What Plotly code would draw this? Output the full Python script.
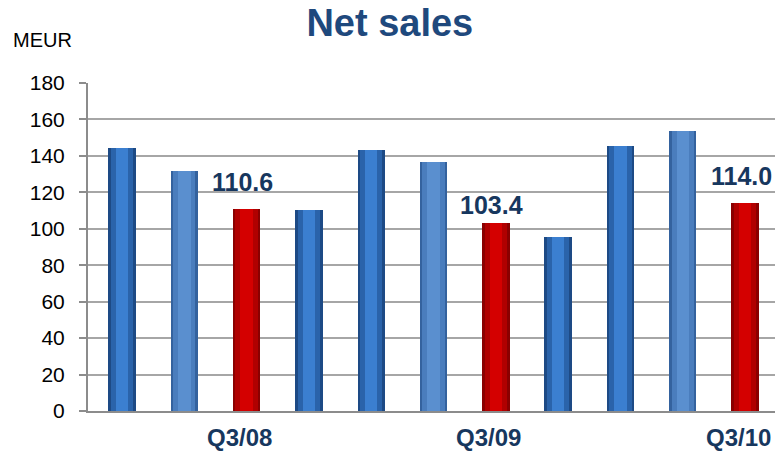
import plotly.graph_objects as go

categories = ["Q1/08", "Q2/08", "Q3/08", "Q4/08", "Q1/09", "Q2/09", "Q3/09", "Q4/09", "Q1/10", "Q2/10", "Q3/10"]
values = [144.2, 131.5, 110.6, 110.3, 143.2, 136.8, 103.4, 95.7, 145.4, 153.7, 114.0]
highlight = [False, False, True, False, False, False, True, False, False, False, True]
shade = ["dark", "light", "red", "dark", "dark", "light", "red", "dark", "dark", "light", "red"]
tick_labels = {2: "Q3/08", 6: "Q3/09", 10: "Q3/10"}

base_col = {"dark": "#2a63aa", "light": "#4a7dbd", "red": "#b00000"}
mid_col = {"dark": "#3b7fd0", "light": "#5a8fcf", "red": "#d40000"}
edge_col = {"dark": "#1d4a85", "light": "#34629e", "red": "#8a0000"}

x = list(range(len(categories)))
FONT = "Liberation Sans, Arial"

fig = go.Figure()
fig.add_trace(go.Bar(x=x, y=values, width=0.44,
                     marker=dict(color=[edge_col[s] for s in shade], line=dict(width=0)),
                     hoverinfo="skip", showlegend=False))
fig.add_trace(go.Bar(x=x, y=values, width=0.36,
                     marker=dict(color=[base_col[s] for s in shade], line=dict(width=0)),
                     showlegend=False))
fig.add_trace(go.Bar(x=x, y=values, width=0.2,
                     marker=dict(color=[mid_col[s] for s in shade], line=dict(width=0)),
                     hoverinfo="skip", showlegend=False))

annotations = []
for i, (v, h) in enumerate(zip(values, highlight)):
    if h:
        annotations.append(dict(x=i, y=v, text=f"<b>{v:.1f}</b>", showarrow=False,
                                yshift=27 if v > 105 else 18, xshift=-4,
                                xanchor="center", yanchor="middle",
                                font=dict(family=FONT, size=25, color="#17375e")))
for pos, lab in tick_labels.items():
    annotations.append(dict(x=pos, y=0, xref="x", yref="paper", text=f"<b>{lab}</b>",
                            showarrow=False, xanchor="center", yanchor="middle",
                            yshift=-26, xshift=-7,
                            font=dict(family=FONT, size=24, color="#17375e")))
annotations.append(dict(xref="paper", yref="paper", x=-0.112, y=1.13, xanchor="left", yanchor="middle",
                        text="MEUR", showarrow=False,
                        font=dict(family=FONT, size=20, color="#000000")))

fig.update_layout(
    width=775, height=451,
    margin=dict(l=88, r=0, t=83, b=40),
    paper_bgcolor="white", plot_bgcolor="white",
    barmode="overlay",
    bargap=0,
    title=dict(text="<b>Net sales</b>", x=0.503, xanchor="center", y=0.95, yanchor="middle",
               font=dict(family=FONT, size=38, color="#1f497d")),
    annotations=annotations,
    xaxis=dict(range=[-0.545, 10.48], showticklabels=False,
               showgrid=False, showline=True, linecolor="#8c8c8c", linewidth=2, ticks="",
               zeroline=False, automargin=False),
    yaxis=dict(range=[0, 180], tickmode="linear", tick0=0, dtick=20,
               tickfont=dict(family=FONT, size=21, color="#000000"),
               showgrid=True, gridcolor="#a6a6a6", gridwidth=2,
               showline=True, linecolor="#8c8c8c", linewidth=2,
               ticks="outside", ticklen=7, tickcolor="#8c8c8c", tickwidth=2,
               zeroline=False, ticklabelstandoff=10, automargin=False),
)

fig.write_html("out.html")
